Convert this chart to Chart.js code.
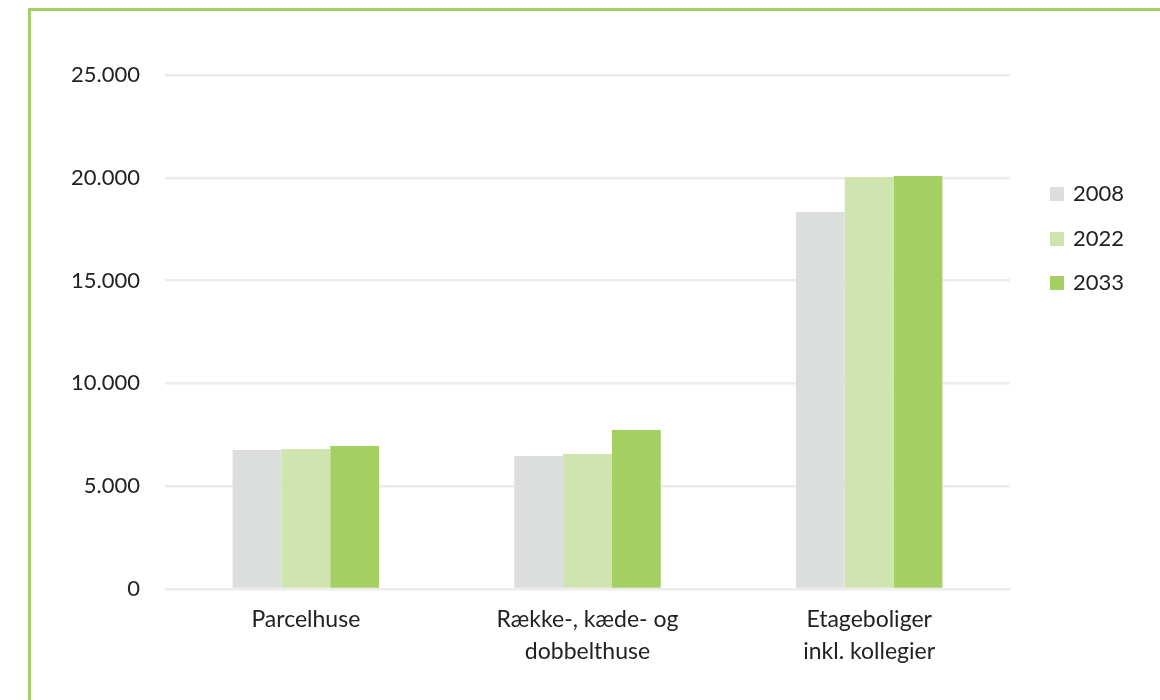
<!DOCTYPE html>
<html>
<head>
<meta charset="utf-8">
<script src="https://cdn.jsdelivr.net/npm/chart.js@4"></script>
<style>
  html, body { margin: 0; padding: 0; background: #fff; }
  #wrap { position: relative; width: 1160px; height: 700px; overflow: hidden; }
  #frame { position: absolute; left: 28px; top: 8px; width: 1200px; height: 800px; border-left: 3px solid #a3d165; border-top: 3px solid #a3d165; }
  #chart { position: absolute; left: 0; top: 0; }
  #legend { position: absolute; left: 1050px; top: 179px; font-family: Lato, sans-serif; font-size: 22px; color: #222; }
  #legend div { height: 44.5px; display: flex; align-items: flex-start; }
  #legend span.box { display: inline-block; width: 14px; height: 14px; margin: 8px 9px 0 0; }
</style>
</head>
<body>
<div id="wrap">
  <div id="frame"></div>
  <canvas id="chart" width="1160" height="700"></canvas>
  <div id="legend"></div>
</div>
<script>
const categories = ['Parcelhuse', ['Række-, kæde- og', 'dobbelthuse'], ['Etageboliger', 'inkl. kollegier']];
const years = ['2008', '2022', '2033'];
const values2008 = [6760, 6470, 18340];
const values2022 = [6810, 6570, 20040];
const values2033 = [6950, 7730, 20090];
const colors = ['#dcdddd', '#d0e4b0', '#a3cf63'];
const yTicks = [0, 5000, 10000, 15000, 20000, 25000];

const series = [values2008, values2022, values2033];

const chart = new Chart(document.getElementById('chart'), {
  type: 'bar',
  data: {
    labels: categories,
    datasets: years.map((y, i) => ({
      label: y,
      data: series[i],
      backgroundColor: colors[i],
      borderWidth: 0,
      barPercentage: 1,
      categoryPercentage: 0.52
    }))
  },
  options: {
    responsive: false,
    animation: false,
    layout: { padding: { top: 75, right: 150, bottom: 20, left: 0 } },
    plugins: { legend: { display: false }, tooltip: { enabled: false } },
    scales: {
      x: {
        grid: { display: false },
        border: { display: false },
        afterFit: s => { s.height = 91; },
        ticks: { color: '#222', font: { family: 'Lato', size: 23, lineHeight: 1.42 }, padding: 6, maxRotation: 0 }
      },
      y: {
        min: 0, max: 25000,
        afterFit: s => { s.width = 165; },
        afterBuildTicks: s => { s.ticks = yTicks.map(v => ({ value: v })); },
        grid: { color: '#ececec', lineWidth: 2.5, drawTicks: false },
        border: { display: false },
        ticks: {
          color: '#222', padding: 25,
          font: { family: 'Lato', size: 22 },
          callback: v => v.toLocaleString('da-DK')
        }
      }
    }
  }
});

const legend = document.getElementById('legend');
chart.data.datasets.forEach(ds => {
  const row = document.createElement('div');
  row.innerHTML = `<span class="box" style="background:${ds.backgroundColor}"></span>${ds.label}`;
  legend.appendChild(row);
});
</script>
</body>
</html>
